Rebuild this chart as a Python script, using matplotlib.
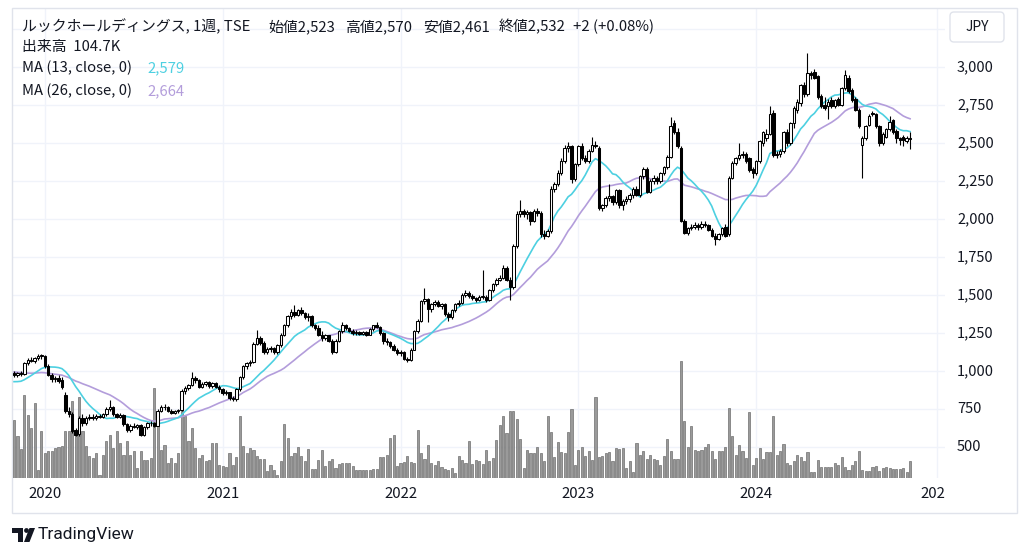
import numpy as np
import pandas as pd
import matplotlib
matplotlib.use("Agg")
import matplotlib.pyplot as plt
from matplotlib.patches import Rectangle, FancyBboxPatch, Polygon, Circle
from matplotlib.transforms import IdentityTransform

# ---------------- data (weekly, starting week of 2019-11-04) ----------------
start_date = "2019-11-04"

opens = [
    990, 975, 985, 980, 1050, 1075, 1065, 1085, 1100, 1100,
    1035, 975, 945, 955, 940, 845, 735, 720, 610, 585,
    690, 655, 690, 700, 690, 705, 700, 715, 750, 760,
    715, 700, 710, 650, 610, 640, 630, 645, 580, 630,
    655, 660, 640, 740, 760, 765, 740, 725, 735, 745,
    870, 885, 905, 955, 940, 895, 915, 925, 900, 920,
    895, 880, 855, 860, 820, 815, 880, 960, 1030, 1050,
    1060, 1180, 1220, 1185, 1125, 1145, 1150, 1125, 1170, 1240,
    1300, 1360, 1390, 1370, 1400, 1380, 1355, 1365, 1300, 1285,
    1240, 1215, 1235, 1200, 1125, 1200, 1260, 1305, 1280, 1265,
    1250, 1255, 1245, 1255, 1240, 1275, 1300, 1290, 1250, 1200,
    1190, 1165, 1140, 1120, 1125, 1080, 1075, 1140, 1260, 1330,
    1460, 1475, 1410, 1440, 1455, 1430, 1440, 1375, 1355, 1400,
    1440, 1450, 1500, 1515, 1495, 1480, 1470, 1485, 1490, 1470,
    1530, 1570, 1600, 1615, 1680, 1600, 1550, 1820, 2030, 2050,
    2035, 2045, 1990, 2050, 2040, 1900, 1890, 1920, 2200, 2230,
    2300, 2380, 2470, 2480, 2260, 2360, 2480, 2400, 2380, 2450,
    2490, 2470, 2070, 2090, 2140, 2150, 2110, 2190, 2090, 2120,
    2130, 2160, 2200, 2160, 2280, 2330, 2180, 2250, 2270, 2250,
    2300, 2340, 2410, 2630, 2570, 2470, 1990, 1910, 1940, 1950,
    1960, 1945, 1970, 1960, 1930, 1890, 1870, 1900, 1950, 1900,
    2270, 2370, 2400, 2420, 2430, 2400, 2330, 2300, 2380, 2500,
    2530, 2560, 2700, 2420, 2430, 2445, 2570, 2500, 2630, 2720,
    2760, 2880, 2820, 2960, 2970, 2940, 2810, 2750, 2740, 2780,
    2740, 2790, 2750, 2860, 2930, 2850, 2790, 2720, 2490, 2530,
    2620, 2700, 2690, 2610, 2500, 2540, 2590, 2650, 2580, 2530,
    2540, 2510, 2523,
]

highs = [
    1000, 995, 1000, 1062, 1088, 1095, 1092, 1112, 1115, 1106,
    1045, 985, 966, 975, 960, 860, 760, 732, 625, 702,
    715, 702, 715, 720, 715, 720, 725, 760, 810, 770,
    725, 722, 720, 660, 652, 660, 650, 650, 640, 665,
    670, 665, 752, 775, 782, 770, 750, 745, 752, 880,
    900, 915, 995, 965, 950, 925, 935, 932, 930, 925,
    905, 890, 875, 865, 835, 885, 965, 1040, 1060, 1075,
    1190, 1270, 1230, 1195, 1160, 1165, 1160, 1180, 1250, 1310,
    1370, 1410, 1435, 1410, 1420, 1390, 1380, 1370, 1310, 1300,
    1260, 1245, 1240, 1210, 1210, 1270, 1320, 1312, 1290, 1275,
    1268, 1262, 1265, 1262, 1280, 1305, 1320, 1295, 1258, 1215,
    1195, 1175, 1150, 1135, 1130, 1095, 1150, 1270, 1340, 1470,
    1546, 1480, 1450, 1470, 1465, 1450, 1445, 1390, 1405, 1450,
    1465, 1510, 1530, 1525, 1505, 1490, 1500, 1665, 1500, 1540,
    1580, 1610, 1630, 1700, 1690, 1620, 1835, 2050, 2125, 2065,
    2060, 2055, 2065, 2070, 2050, 1925, 1935, 2215, 2245, 2320,
    2400, 2490, 2507, 2490, 2370, 2490, 2500, 2420, 2460, 2540,
    2510, 2480, 2100, 2150, 2230, 2160, 2200, 2200, 2130, 2150,
    2170, 2210, 2215, 2290, 2340, 2340, 2260, 2290, 2280, 2310,
    2350, 2420, 2670, 2650, 2600, 2480, 2000, 1950, 1965, 1980,
    1975, 1985, 1985, 1970, 1940, 1905, 1910, 1950, 1965, 2280,
    2380, 2410, 2500, 2450, 2440, 2410, 2345, 2390, 2520, 2580,
    2590, 2740, 2720, 2450, 2460, 2580, 2590, 2640, 2740, 2790,
    2890, 2900, 3090, 2975, 2985, 2950, 2820, 2800, 2790, 2800,
    2790, 2800, 2870, 2980, 2950, 2860, 2800, 2730, 2545, 2620,
    2690, 2710, 2700, 2620, 2570, 2600, 2680, 2660, 2590, 2540,
    2550, 2545, 2570,
]

lows = [
    960, 962, 968, 975, 1040, 1058, 1055, 1075, 1082, 1022,
    965, 930, 925, 920, 880, 725, 700, 590, 570, 575,
    640, 645, 675, 680, 680, 690, 690, 705, 740, 705,
    690, 690, 640, 600, 600, 625, 620, 570, 570, 620,
    640, 630, 635, 730, 745, 730, 715, 715, 725, 740,
    850, 875, 900, 920, 885, 885, 900, 890, 890, 885,
    865, 845, 840, 810, 800, 805, 870, 950, 1010, 1035,
    1050, 1170, 1170, 1110, 1110, 1125, 1110, 1115, 1160, 1230,
    1290, 1340, 1355, 1360, 1370, 1340, 1330, 1290, 1270, 1230,
    1200, 1205, 1190, 1115, 1120, 1190, 1250, 1270, 1255, 1240,
    1235, 1235, 1235, 1230, 1235, 1265, 1280, 1240, 1180, 1170,
    1150, 1130, 1105, 1100, 1070, 1060, 1065, 1135, 1250, 1320,
    1440, 1320, 1390, 1425, 1420, 1410, 1365, 1330, 1345, 1390,
    1430, 1440, 1490, 1480, 1470, 1455, 1460, 1475, 1455, 1460,
    1520, 1560, 1590, 1605, 1590, 1470, 1540, 1810, 2015, 2010,
    2000, 1960, 1980, 2020, 1880, 1870, 1880, 1910, 2180, 2215,
    2290, 2370, 2440, 2240, 2250, 2350, 2390, 2370, 2370, 2440,
    2465, 2060, 2050, 2080, 2120, 2090, 2100, 2070, 2060, 2100,
    2110, 2140, 2150, 2145, 2260, 2170, 2170, 2230, 2230, 2240,
    2290, 2330, 2400, 2560, 2470, 1980, 1900, 1895, 1925, 1935,
    1930, 1935, 1950, 1920, 1880, 1830, 1860, 1890, 1880, 1890,
    2260, 2355, 2390, 2400, 2370, 2310, 2270, 2290, 2370, 2480,
    2510, 2550, 2410, 2400, 2410, 2435, 2480, 2490, 2600, 2700,
    2740, 2800, 2810, 2920, 2920, 2790, 2730, 2720, 2660, 2730,
    2730, 2740, 2740, 2850, 2830, 2770, 2710, 2600, 2270, 2520,
    2610, 2680, 2600, 2480, 2490, 2530, 2580, 2560, 2500, 2490,
    2480, 2500, 2461,
]

closes = [
    975, 985, 980, 1050, 1075, 1065, 1085, 1100, 1105, 1035,
    975, 945, 955, 935, 895, 735, 720, 605, 580, 690,
    655, 690, 700, 690, 705, 700, 715, 750, 760, 715,
    700, 710, 650, 610, 640, 630, 645, 580, 630, 655,
    660, 640, 740, 760, 765, 740, 725, 735, 745, 870,
    885, 905, 955, 940, 895, 915, 925, 900, 920, 895,
    880, 855, 860, 820, 815, 880, 960, 1030, 1050, 1060,
    1180, 1220, 1185, 1125, 1145, 1150, 1125, 1170, 1240, 1300,
    1360, 1390, 1370, 1400, 1380, 1355, 1365, 1300, 1285, 1240,
    1215, 1235, 1200, 1125, 1200, 1260, 1305, 1280, 1265, 1250,
    1255, 1245, 1255, 1240, 1275, 1300, 1290, 1250, 1200, 1190,
    1165, 1140, 1120, 1125, 1080, 1075, 1140, 1260, 1330, 1460,
    1475, 1410, 1440, 1455, 1430, 1440, 1375, 1355, 1400, 1440,
    1450, 1500, 1515, 1495, 1480, 1470, 1485, 1490, 1470, 1530,
    1570, 1600, 1615, 1680, 1600, 1550, 1820, 2030, 2050, 2035,
    2045, 1990, 2050, 2040, 1900, 1890, 1920, 2200, 2230, 2300,
    2380, 2470, 2480, 2260, 2360, 2480, 2400, 2380, 2450, 2490,
    2480, 2070, 2090, 2140, 2150, 2110, 2190, 2090, 2120, 2130,
    2160, 2200, 2160, 2280, 2330, 2180, 2250, 2270, 2250, 2300,
    2340, 2410, 2610, 2570, 2480, 1990, 1910, 1940, 1950, 1960,
    1945, 1970, 1960, 1930, 1890, 1870, 1900, 1940, 1890, 2270,
    2370, 2400, 2420, 2430, 2380, 2320, 2300, 2380, 2510, 2570,
    2560, 2690, 2420, 2430, 2445, 2570, 2500, 2630, 2730, 2770,
    2880, 2820, 2960, 2945, 2930, 2800, 2740, 2730, 2770, 2740,
    2780, 2750, 2860, 2950, 2840, 2780, 2720, 2610, 2530, 2610,
    2680, 2690, 2610, 2500, 2560, 2590, 2640, 2570, 2530, 2520,
    2520, 2530, 2532,
]

# volume in thousands of shares
volumes = [
    357, 259, 179, 511, 388, 308, 462, 49, 290, 154,
    166, 166, 185, 191, 197, 290, 290, 474, 290, 499,
    290, 197, 136, 123, 154, 18, 142, 228, 265, 185,
    290, 216, 142, 228, 142, 166, 62, 166, 111, 111,
    123, 554, 400, 172, 203, 92, 123, 92, 154, 450,
    382, 228, 308, 185, 123, 142, 105, 111, 216, 216,
    80, 74, 68, 154, 80, 129, 382, 197, 154, 185,
    172, 136,
    117, 117, 43, 80, 49, 18, 105, 333, 246, 136,
    154, 191, 136, 105, 179, 55, 55, 111, 172, 74,
    105, 117, 62, 86, 92, 92, 92, 74, 49, 49,
    49, 49, 49, 55, 55, 129, 129, 142, 246, 265,
    74, 92, 99, 136, 99, 92, 296, 154, 117, 203,
    92, 80, 105, 68, 55, 49, 62, 31, 136, 111,
    92, 228, 86, 111, 105, 86,
    172, 105, 123, 234, 326, 382, 277, 413, 413, 363,
    240, 62, 172, 154, 154, 191, 154, 105, 382, 283,
    129, 222, 160, 154, 283, 425, 80, 172, 191, 136,
    166, 111, 499, 129, 136, 154, 160, 105, 185, 179,
    185, 62, 105, 37, 216, 142, 166, 117, 142, 117,
    111, 80, 136, 240, 166, 117, 117, 721, 351, 191,
    320, 172, 166, 172, 191, 209, 166, 117, 166, 166, 191,
    431, 259, 142, 203, 166, 123, 407, 80, 123, 185,
    117, 160, 160, 382, 142, 166, 209, 92, 80, 105,
    142, 129, 105, 160, 37, 37, 111, 68, 68, 68,
    68, 92, 80, 129, 68, 49, 80, 105, 166, 49,
    43, 43, 68, 74, 43, 62, 68, 62, 55, 55,
    55, 62, 37, 104.7,
]

# closes of the 25 weeks before the first visible bar (moving-average warm-up)
history_closes = [
    1020, 1060, 1090, 1100, 1080, 1070, 1060, 1050, 1070, 1060, 1040, 1030, 1000,
    980, 950, 920, 900, 880, 890, 910, 900, 920, 940, 960, 962,
]

price_ticks = [500, 750, 1000, 1250, 1500, 1750, 2000, 2250, 2500, 2750, 3000]
year_labels = [2020, 2021, 2022, 2023, 2024, 2025]

title_parts = ["ルックホールディングス, 1週, TSE", "始値2,523", "高値2,570",
               "安値2,461", "終値2,532", "+2 (+0.08%)"]
volume_label = "出来高  104.7K"
ma13_label, ma13_value = "MA (13, close, 0)", "2,579"
ma26_label, ma26_value = "MA (26, close, 0)", "2,664"

# ---------------- derived ----------------
N = len(closes)
o = np.array(opens, float); h = np.array(highs, float)
l = np.array(lows, float); c = np.array(closes, float)
v = np.array(volumes, float)
x = np.arange(N)
allc = pd.Series(history_closes + closes, dtype=float)
ma13 = allc.rolling(13).mean().to_numpy()[len(history_closes):]
ma26 = allc.rolling(26).mean().to_numpy()[len(history_closes):]

dates = pd.date_range(start_date, periods=N + 30, freq="W-MON")
year_pos = []
for yv in year_labels:
    idx = np.where(dates.year == yv)[0]
    year_pos.append(int(idx[0]))

# ---------------- figure ----------------
TXT = "#131722"
GRID = "#f0f3fa"
BORDER = "#e0e3eb"
MA13C = "#4dd0e1"
MA26C = "#b39ddb"
FONT = ["Noto Sans CJK JP", "DejaVu Sans"]
plt.rcParams["font.family"] = FONT

W, H = 1024, 557
fig = plt.figure(figsize=(W / 100, H / 100), dpi=100)
fig.patch.set_facecolor("white")

def rect(lft, top, rgt, bot):
    return [lft / W, 1 - bot / H, (rgt - lft) / W, (bot - top) / H]

PL, PT, PR, PB = 12, 8, 945, 478
XMIN = -0.6
XMAX = XMIN + (PR - PL) / 3.42
YMIN, YMAX = 296, 3388

ax_bg = fig.add_axes(rect(PL, PT, PR, PB), zorder=0)
ax_v = fig.add_axes(rect(PL, PT, PR, PB), zorder=1)
ax = fig.add_axes(rect(PL, PT, PR, PB), zorder=2)
for a in (ax_bg, ax_v, ax):
    a.set_xlim(XMIN, XMAX)
    a.axis("off")
ax_bg.set_ylim(YMIN, YMAX)
ax.set_ylim(YMIN, YMAX)
ax_v.set_ylim(0, 2900)

# grid
for p in range(250, 3500, 250):
    ax_bg.axhline(p, color=GRID, lw=1.0)
for xp in year_pos:
    ax_bg.axvline(xp, color=GRID, lw=1.0)

# volume
ax_v.bar(x, v, width=0.62, color="#9a9a9a", edgecolor="#6f6f6f", linewidth=0.5)

# moving averages
ax.plot(x, ma26, color=MA26C, lw=1.2, zorder=2)
ax.plot(x, ma13, color=MA13C, lw=1.2, zorder=2)

# candles
up = c >= o
ax.vlines(x, l, h, color="black", lw=0.8, zorder=3)
body_bottom = np.minimum(o, c)
body_h = np.maximum(np.abs(c - o), 6)
ax.bar(x, body_h, bottom=body_bottom, width=0.72,
       color=np.where(up, "white", "black"), edgecolor="black",
       linewidth=0.75, zorder=4)

# price axis labels
for p in price_ticks:
    ax.annotate(f"{p:,}", xy=(957 / W, p), xycoords=("figure fraction", "data"),
                ha="left", va="center", fontsize=10.5, color=TXT,
                annotation_clip=False)

# time axis
ax_t = fig.add_axes(rect(PL, PB, PR, 513))
ax_t.set_xlim(XMIN, XMAX)
ax_t.set_ylim(0, 1)
ax_t.axis("off")
for xp, yl in zip(year_pos, year_labels):
    ax_t.text(xp, 0.54, str(yl), ha="center", va="center", fontsize=10.8,
              color=TXT, clip_on=True)

# outer border
fig.add_artist(Rectangle((12, H - 513), 1017 - 12, 513 - 8, transform=IdentityTransform(),
                         fill=False, edgecolor=BORDER, lw=1))

# JPY box
fig.add_artist(FancyBboxPatch((950, H - 42), 54, 30, boxstyle="round,pad=0,rounding_size=4",
                              transform=IdentityTransform(), facecolor="white",
                              edgecolor=BORDER, lw=1, zorder=5))
fig.text(977 / W, 1 - 27 / H, "JPY", ha="center", va="center", fontsize=10,
         color=TXT, zorder=6)

# legend
FS = 10.7
title_x = [22, 268, 345, 423, 499, 573]
for tx, t in zip(title_x, title_parts):
    fig.text(tx / W, 1 - 27 / H, t, ha="left", va="center", fontsize=FS, color=TXT)
fig.text(22 / W, 1 - 47 / H, volume_label, ha="left", va="center", fontsize=FS, color=TXT)
fig.text(22 / W, 1 - 68 / H, ma13_label, ha="left", va="center", fontsize=FS, color=TXT)
fig.text(147 / W, 1 - 68 / H, ma13_value, ha="left", va="center", fontsize=FS, color=MA13C)
fig.text(22 / W, 1 - 91 / H, ma26_label, ha="left", va="center", fontsize=FS, color=TXT)
fig.text(147 / W, 1 - 91 / H, ma26_value, ha="left", va="center", fontsize=FS, color=MA26C)

# TradingView logo
def P(px, py):
    return (px, H - py)
fig.add_artist(Polygon([P(12, 528), P(23, 528), P(23, 542), P(17.5, 542), P(17.5, 532.5), P(12, 532.5)],
                       closed=True, transform=IdentityTransform(), facecolor=TXT, edgecolor="none"))
fig.add_artist(Circle(P(26.5, 530.5), 2.4, transform=IdentityTransform(), facecolor=TXT, edgecolor="none"))
fig.add_artist(Polygon([P(29.5, 528), P(35, 528), P(29.5, 542), P(24, 542)],
                       closed=True, transform=IdentityTransform(), facecolor=TXT, edgecolor="none"))
fig.text(38 / W, 1 - 535 / H, "TradingView", ha="left", va="center", fontsize=12.5,
         color=TXT, family=["Roboto", "DejaVu Sans"])

fig.savefig("out.png", dpi=100)
